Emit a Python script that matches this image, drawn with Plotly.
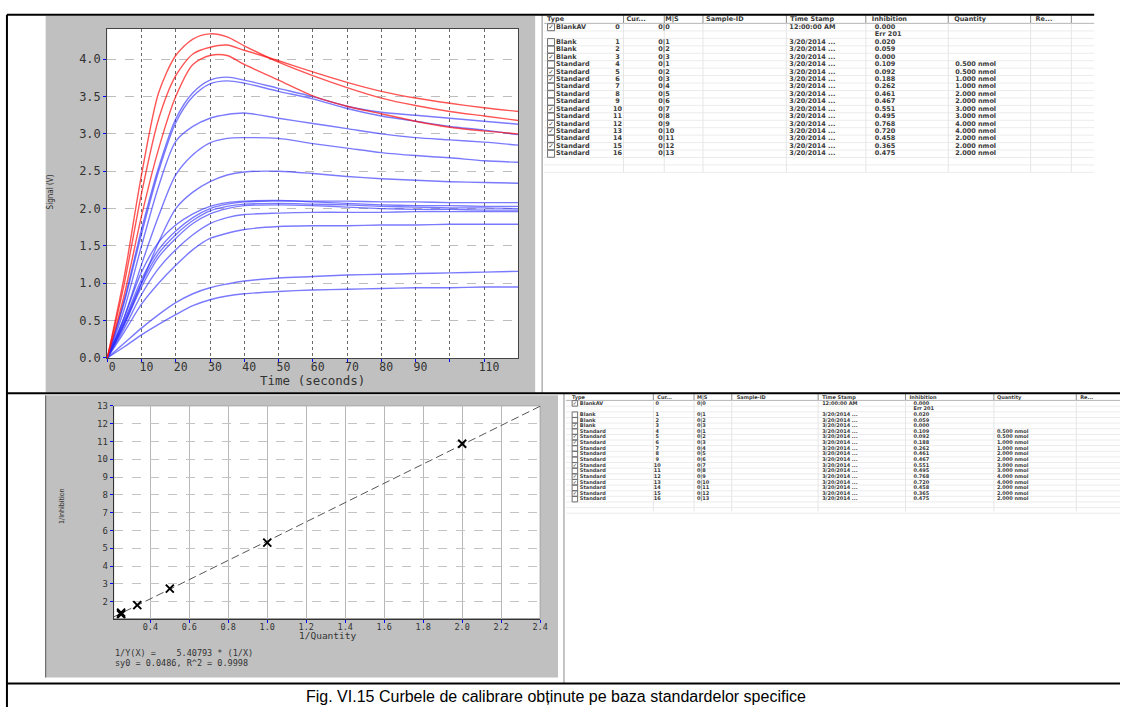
import plotly.graph_objects as go

W, H = 1128, 714

# ---------------- top chart: signal curves (V) vs time (s) ----------------
time_s = [0, 5, 10, 15, 20, 25, 30, 35, 40, 50, 60, 70, 80, 90, 100, 110, 120]

sig_red_1 = [0, 1.10, 2.45, 3.55, 4.05, 4.27, 4.34, 4.30, 4.18, 3.96, 3.78, 3.62, 3.48, 3.38, 3.30, 3.24, 3.18]
sig_red_2 = [0, 1.00, 2.20, 3.20, 3.78, 4.07, 4.16, 4.19, 4.12, 3.98, 3.83, 3.69, 3.57, 3.48, 3.41, 3.35, 3.30]
sig_red_3 = [0, 0.85, 1.90, 2.80, 3.50, 3.93, 4.05, 4.05, 3.93, 3.72, 3.51, 3.37, 3.27, 3.17, 3.09, 3.04, 3.00]

sig_blue_1 = [0, 0.78, 1.72, 2.55, 3.20, 3.55, 3.72, 3.76, 3.72, 3.61, 3.50, 3.37, 3.29, 3.25, 3.21, 3.17, 3.13]
sig_blue_2 = [0, 0.75, 1.66, 2.50, 3.15, 3.50, 3.67, 3.71, 3.68, 3.57, 3.47, 3.34, 3.24, 3.17, 3.10, 3.05, 2.99]
sig_blue_3 = [0, 0.66, 1.50, 2.30, 2.90, 3.10, 3.21, 3.26, 3.28, 3.21, 3.14, 3.07, 3.00, 2.95, 2.92, 2.89, 2.85]
sig_blue_4 = [0, 0.55, 1.25, 1.90, 2.45, 2.72, 2.88, 2.94, 2.95, 2.94, 2.87, 2.81, 2.75, 2.71, 2.68, 2.64, 2.62]
sig_blue_5 = [0, 0.45, 1.00, 1.55, 2.00, 2.22, 2.36, 2.45, 2.49, 2.50, 2.47, 2.43, 2.40, 2.38, 2.36, 2.35, 2.34]
sig_blue_6 = [0, 0.55, 1.15, 1.55, 1.78, 1.93, 2.03, 2.08, 2.10, 2.11, 2.09, 2.07, 2.05, 2.04, 2.04, 2.03, 2.03]
sig_blue_7 = [0, 0.50, 1.05, 1.45, 1.70, 1.88, 2.00, 2.06, 2.09, 2.10, 2.10, 2.10, 2.09, 2.09, 2.08, 2.08, 2.08]
sig_blue_8 = [0, 0.48, 1.00, 1.40, 1.65, 1.84, 1.97, 2.03, 2.06, 2.07, 2.06, 2.05, 2.03, 2.02, 2.01, 2.01, 2.00]
sig_blue_9 = [0, 0.45, 0.95, 1.35, 1.60, 1.80, 1.93, 2.00, 2.04, 2.05, 2.04, 2.02, 2.00, 1.99, 1.99, 1.98, 1.98]
sig_blue_10 = [0, 0.40, 0.85, 1.20, 1.45, 1.65, 1.80, 1.88, 1.92, 1.94, 1.95, 1.95, 1.95, 1.96, 1.96, 1.96, 1.96]
sig_blue_11 = [0, 0.35, 0.72, 1.00, 1.24, 1.45, 1.60, 1.67, 1.72, 1.76, 1.77, 1.77, 1.78, 1.78, 1.79, 1.79, 1.79]
sig_blue_12 = [0, 0.20, 0.40, 0.58, 0.74, 0.86, 0.94, 0.99, 1.03, 1.07, 1.09, 1.11, 1.12, 1.13, 1.14, 1.15, 1.16]
sig_blue_13 = [0, 0.15, 0.31, 0.45, 0.58, 0.70, 0.78, 0.83, 0.86, 0.89, 0.91, 0.92, 0.93, 0.94, 0.94, 0.95, 0.95]

red_series = [sig_red_1, sig_red_2, sig_red_3]
blue_series = [sig_blue_1, sig_blue_2, sig_blue_3, sig_blue_4, sig_blue_5, sig_blue_6, sig_blue_7,
               sig_blue_8, sig_blue_9, sig_blue_10, sig_blue_11, sig_blue_12, sig_blue_13]

time_ticks = [0, 10, 20, 30, 40, 50, 60, 70, 80, 90, 100, 110]
time_tick_labels = ["0", "10", "20", "30", "40", "50", "60", "70", "80", "90", "", "110"]
signal_ticks = [0, 0.5, 1.0, 1.5, 2.0, 2.5, 3.0, 3.5, 4.0]

# ---------------- bottom chart: calibration ----------------
cal_inv_quantity = [2.0, 1.0, 0.333, 0.25, 0.25, 0.5]
cal_inv_inhibition = [10.87, 5.32, 1.81, 1.30, 1.39, 2.74]
fit_slope = 5.40793
fit_x_range = [0.21, 2.4]
inv_q_ticks = [0.4, 0.6, 0.8, 1.0, 1.2, 1.4, 1.6, 1.8, 2.0, 2.2, 2.4]
inv_i_ticks = [2, 3, 4, 5, 6, 7, 8, 9, 10, 11, 12, 13]

# ---------------- table ----------------
tbl_checked = [1, None, 0, 0, 1, 0, 1, 1, 0, 0, 0, 1, 0, 1, 1, 0, 1, 0]
tbl_type = ["BlankAV", "", "Blank", "Blank", "Blank"] + ["Standard"] * 13
tbl_cur = ["0", "", "1", "2", "3", "4", "5", "6", "7", "8", "9", "10", "11", "12", "13", "14", "15", "16"]
tbl_ms = ["0|0", "", "0|1", "0|2", "0|3", "0|1", "0|2", "0|3", "0|4", "0|5", "0|6", "0|7",
          "0|8", "0|9", "0|10", "0|11", "0|12", "0|13"]
tbl_time = ["12:00:00 AM", ""] + ["3/20/2014 ..."] * 16
tbl_inhibition = ["0.000", "Err 201", "0.020", "0.059", "0.000", "0.109", "0.092", "0.188", "0.262",
                  "0.461", "0.467", "0.551", "0.495", "0.768", "0.720", "0.458", "0.365", "0.475"]
tbl_quantity = ["", "", "", "", "", "0.500 nmol", "0.500 nmol", "1.000 nmol", "1.000 nmol",
                "2.000 nmol", "2.000 nmol", "3.000 nmol", "3.000 nmol", "4.000 nmol", "4.000 nmol",
                "2.000 nmol", "2.000 nmol", "2.000 nmol"]
tbl_headers = ["Type", "Cur...", "M|S", "Sample-ID", "Time Stamp", "Inhibition", "Quantity", "Re..."]

caption = "Fig. VI.15 Curbele de calibrare obținute pe baza standardelor specifice"


def px(x):
    return x / W


def py(y):
    return 1 - y / H


fig = go.Figure()
MONO = "DejaVu Sans Mono"

# ---- top chart traces ----
for s in blue_series:
    fig.add_trace(go.Scatter(x=time_s, y=s, mode="lines", line=dict(color="rgba(40,40,255,0.62)", width=1.4,
                             shape="spline", smoothing=0.8), xaxis="x", yaxis="y", showlegend=False))
for s in red_series:
    fig.add_trace(go.Scatter(x=time_s, y=s, mode="lines", line=dict(color="rgba(255,20,20,0.72)", width=1.4,
                             shape="spline", smoothing=0.8), xaxis="x", yaxis="y", showlegend=False))

# ---- bottom chart traces ----
fit_y = [fit_slope * v for v in fit_x_range]
fig.add_trace(go.Scatter(x=fit_x_range, y=fit_y, mode="lines",
                         line=dict(color="#555555", width=1, dash="8px,4px"),
                         xaxis="x2", yaxis="y2", showlegend=False))
fig.add_trace(go.Scatter(x=cal_inv_quantity, y=cal_inv_inhibition, mode="markers",
                         marker=dict(symbol="x-thin-open", size=8, color="black", line=dict(width=2, color="black")),
                         xaxis="x2", yaxis="y2", showlegend=False))

shapes = []
annotations = []


def rect(x0, y0, x1, y1, fill, line=None, layer="below"):
    shapes.append(dict(type="rect", xref="paper", yref="paper", x0=px(x0), x1=px(x1), y0=py(y1), y1=py(y0),
                       fillcolor=fill, line=dict(width=0 if line is None else 1, color=line or fill), layer=layer))


def seg(x0, y0, x1, y1, color, width=1, layer="below"):
    shapes.append(dict(type="line", xref="paper", yref="paper", x0=px(x0), x1=px(x1), y0=py(y0), y1=py(y1),
                       line=dict(color=color, width=width), layer=layer))


def label(text, x, y, size, family=MONO, angle=0, xanchor="center"):
    annotations.append(dict(text=text, x=px(x), y=py(y), xref="paper", yref="paper", showarrow=False,
                            xanchor=xanchor, yanchor="middle", textangle=angle,
                            font=dict(family=family, size=size, color="#333")))


# gray panels and white plot areas
rect(46, 11, 539, 394, "#c0c0c0")
rect(46, 397, 562, 684, "#c0c0c0")
rect(108, 24, 522, 359, "white")
rect(114.5, 407.7, 544, 624, "white", line="#a0a0a0")
seg(546, 10, 546, 395, "#8a8a8a")
seg(568, 395, 568, 690, "#8a8a8a")
seg(46, 397, 46, 684, "#555555")


# ---- tables ----
def add_table(g):
    n = len(tbl_type)
    rows_y = [g["y0"] + k * g["dy"] for k in range(n)]
    fs = g["font"]
    tf = dict(family="DejaVu Sans", size=fs, color="#3a3a3a", weight="bold")
    yb = g["y_head"] + g["dy"] * 0.55
    seg(g["left"], yb, g["right"], yb, "#b5b5b5")
    y = rows_y[0] - g["dy"] / 2
    while y < g["bottom"]:
        y += g["dy"]
        seg(g["left"], y, g["right"], y, "#ececec")
    for sx in g["seps"]:
        seg(sx, g["y_head"] - g["dy"] * 0.55, sx, yb, "#8c8c8c")
        seg(sx, yb, sx, g["bottom"], "#e6e6e6")
    fig.add_trace(go.Scatter(x=g["hdr_x"], y=[g["y_head"]] * len(tbl_headers), text=tbl_headers, mode="text",
                             textposition="middle right", textfont=tf, xaxis="x3", yaxis="y3", showlegend=False))
    cb_y = [rows_y[i] for i in range(n) if tbl_checked[i] is not None]
    fig.add_trace(go.Scatter(x=[g["x_check"]] * len(cb_y), y=cb_y, mode="markers",
                             marker=dict(symbol="square-open", size=g["cb"], color="#707070", line=dict(width=1)),
                             xaxis="x3", yaxis="y3", showlegend=False))
    ck_y = [rows_y[i] for i in range(n) if tbl_checked[i] == 1]
    fig.add_trace(go.Scatter(x=[g["x_check"]] * len(ck_y), y=ck_y, mode="text", text=["✓"] * len(ck_y),
                             textposition="middle center",
                             textfont=dict(family="DejaVu Sans", size=fs, color="#333"),
                             xaxis="x3", yaxis="y3", showlegend=False))
    cols = [(g["x_type"], tbl_type, "middle right"), (g["x_cur"], tbl_cur, "middle center"),
            (g["x_ms"], tbl_ms, "middle right"), (g["x_time"], tbl_time, "middle right"),
            (g["x_inh"], tbl_inhibition, "middle right"), (g["x_qty"], tbl_quantity, "middle right")]
    for cx, vals, pos in cols:
        fig.add_trace(go.Scatter(x=[cx] * n, y=rows_y, text=vals, mode="text", textposition=pos, textfont=tf,
                                 xaxis="x3", yaxis="y3", showlegend=False))


top_table = dict(x_check=555, x_type=560, x_cur=622, x_ms=663, x_time=795, x_inh=881, x_qty=962,
                 y_head=14.5, y0=22.6, dy=7.57, font=6.5, cb=7,
                 hdr_x=[551, 631, 670, 711, 796, 878, 961, 1043],
                 seps=[628, 669, 708, 792, 872, 955, 1038, 1079], left=548, right=1102, bottom=170)
bottom_table = dict(x_check=579, x_type=584, x_cur=662, x_ms=702, x_time=828, x_inh=920, x_qty=1004,
                    y_head=399, y0=405.2, dy=5.73, font=5, cb=5.5,
                    hdr_x=[576, 662, 702, 742, 828, 916, 1004, 1088],
                    seps=[658, 699, 737, 824, 912, 1001, 1084], left=570, right=1128, bottom=515)
add_table(top_table)
add_table(bottom_table)

# ---- frame lines ----
seg(7, 10, 1102, 10, "black", 2, "above")
seg(7, 10, 7, 714, "black", 2, "above")
seg(7, 395, 1128, 395, "black", 2, "above")
seg(7, 690, 1128, 690, "black", 2, "above")

# ---- texts ----
label("Time (seconds)", 315, 382, 12.5)
label("Signal (V)", 51, 190, 8, family="DejaVu Sans Condensed", angle=-90)
label("1/Quantity", 330, 641, 9.5)
label("1/Inhibition", 63, 510, 7, family="DejaVu Sans Condensed", angle=-90)
label("1/Y(X) =    %.5f * (1/X)" % fit_slope, 114, 659.5, 8.5, xanchor="left")
label("sy0 = 0.0486, R^2 = 0.9998", 114, 669.5, 8.5, xanchor="left")
annotations.append(dict(text=caption, x=px(560), y=py(703), xref="paper", yref="paper", showarrow=False,
                        xanchor="center", yanchor="middle",
                        font=dict(family="Liberation Sans", size=16, color="black")))

fig.update_layout(
    width=W, height=H, margin=dict(l=0, r=0, t=0, b=0),
    paper_bgcolor="white", plot_bgcolor="rgba(0,0,0,0)",
    shapes=shapes, annotations=annotations, showlegend=False,
    xaxis=dict(domain=[px(108), px(522)], range=[0, 120], tickvals=time_ticks, ticktext=time_tick_labels,
               showgrid=True, gridcolor="#6a6a6a", griddash="dot", gridwidth=1, zeroline=False,
               showline=True, linecolor="#444", mirror=True, ticks="outside", ticklen=3, tickcolor="blue",
               tickfont=dict(family=MONO, size=11.5, color="#333"), ticklabelshift=5, ticklabelstandoff=-5,
               anchor="y"),
    yaxis=dict(domain=[py(359), py(24)], range=[0, 4.41], tickvals=signal_ticks, tickformat=".1f",
               showgrid=True, gridcolor="#bdbdbd", griddash="dash", gridwidth=1, zeroline=False,
               showline=True, linecolor="#444", mirror=True, ticks="outside", ticklen=3, tickcolor="blue",
               tickfont=dict(family=MONO, size=12, color="#333"), anchor="x"),
    xaxis2=dict(domain=[px(114.5), px(544)], range=[0.212, 2.4], tickvals=inv_q_ticks, tickformat=".1f",
                showgrid=True, gridcolor="#b8b8b8", gridwidth=1, zeroline=False,
                showline=True, linecolor="#333", ticks="outside", ticklen=3, tickcolor="blue",
                tickfont=dict(family=MONO, size=8.5, color="#333"), ticklabelstandoff=-3, anchor="y2"),
    yaxis2=dict(domain=[py(624), py(407.7)], range=[1.06, 13], tickvals=inv_i_ticks,
                showgrid=True, gridcolor="#c4c4c4", griddash="dash", gridwidth=1, zeroline=False,
                showline=True, linecolor="#333", ticks="outside", ticklen=3, tickcolor="blue",
                tickfont=dict(family=MONO, size=9, color="#333"), anchor="x2"),
    xaxis3=dict(domain=[0, 1], range=[0, W], visible=False, fixedrange=True, anchor="y3"),
    yaxis3=dict(domain=[0, 1], range=[H, 0], visible=False, fixedrange=True, anchor="x3"),
)

post = ("document.documentElement.style.margin='0';document.documentElement.style.overflow='hidden';"
        "document.body.style.margin='0';document.body.style.overflow='hidden';"
        "var gd=document.getElementById('{plot_id}');gd.style.position='fixed';"
        "gd.style.left='0px';gd.style.top='0px';")
fig.write_html("out.html", config={"displayModeBar": False}, post_script=post)
